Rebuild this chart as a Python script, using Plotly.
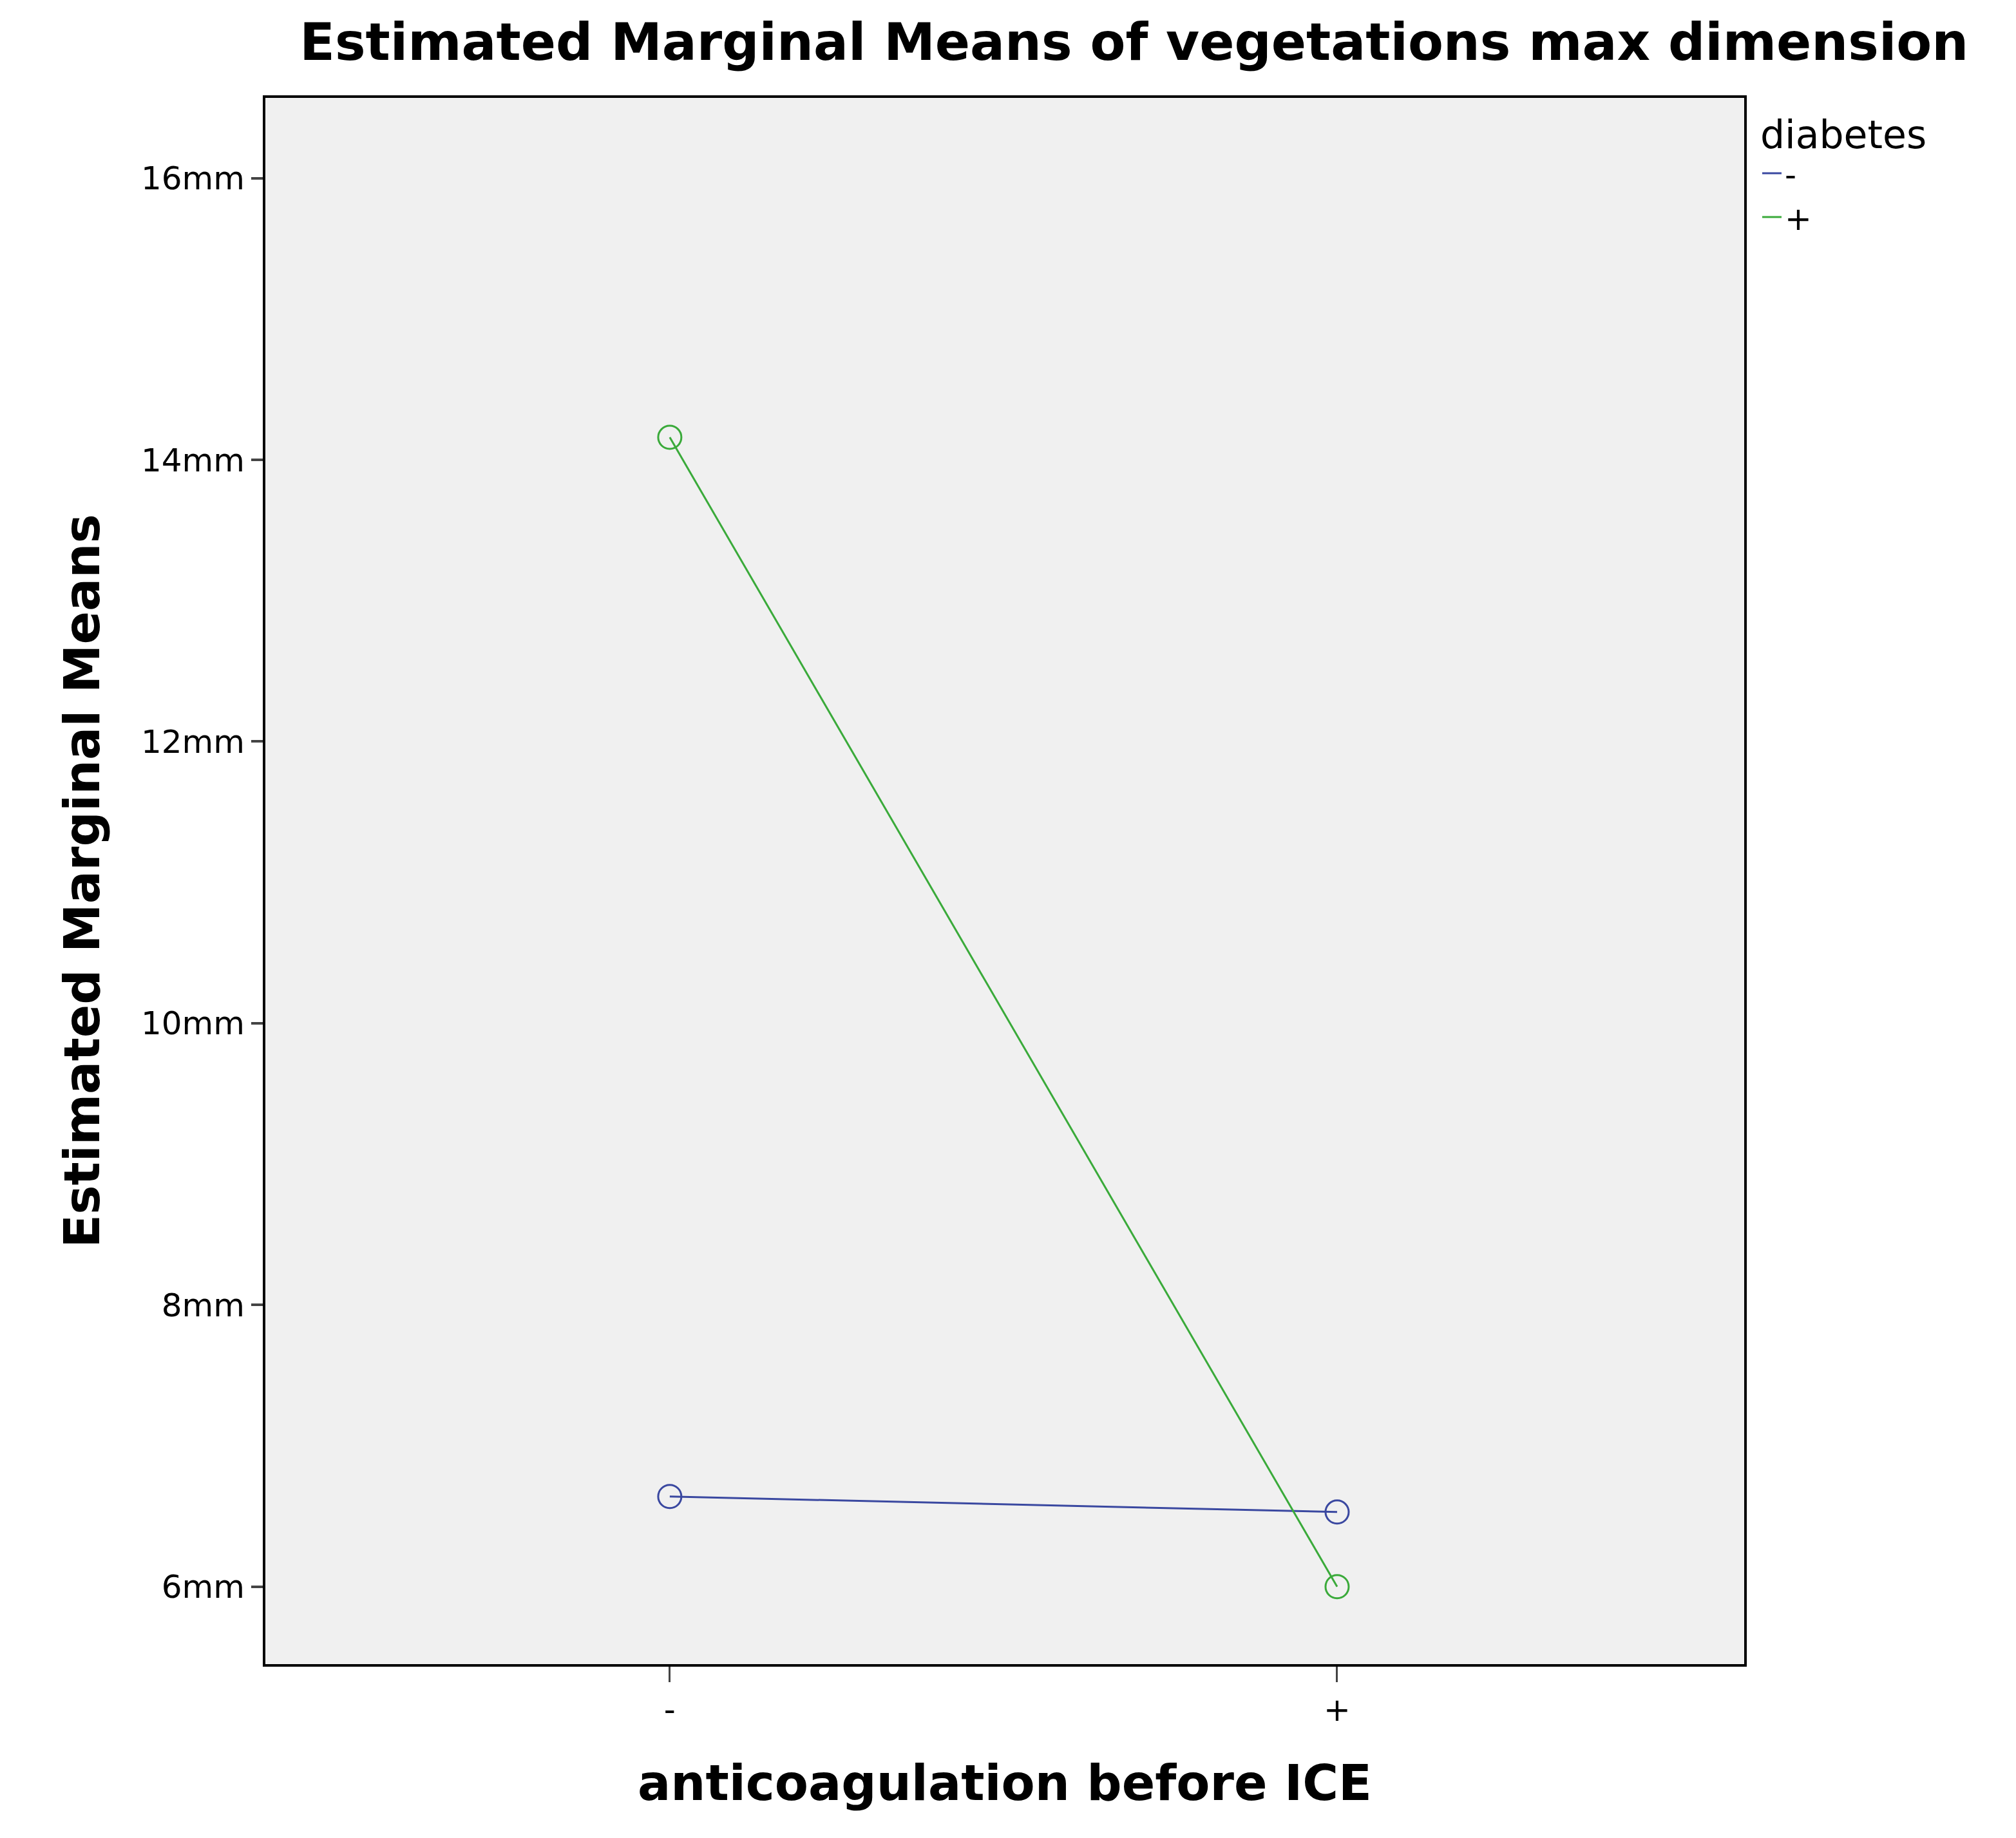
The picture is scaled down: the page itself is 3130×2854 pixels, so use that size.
import plotly.graph_objects as go

categories = ["-", "+"]
x_pos = [0, 1]
diab_minus = [6.64, 6.53]
diab_plus = [14.16, 6.0]
y_ticks = [6, 8, 10, 12, 14, 16]
y_labels = ["6mm", "8mm", "10mm", "12mm", "14mm", "16mm"]
blue, green = "#3a48a0", "#3aaa3a"

fig = go.Figure()
for name, vals, col in [("-", diab_minus, blue), ("+", diab_plus, green)]:
    fig.add_trace(go.Scatter(x=x_pos, y=vals, name=name, mode="lines+markers", showlegend=False,
        line=dict(color=col, width=3),
        marker=dict(symbol="circle-open", size=36, color=col, line=dict(width=3))))
    fig.add_trace(go.Scatter(x=[None], y=[None], name=name, mode="lines",
        line=dict(color=col, width=3)))

fig.update_layout(
    width=3130, height=2854,
    margin=dict(l=404, r=430, t=144, b=278),
    paper_bgcolor="white", plot_bgcolor="#f0f0f0",
    font=dict(family="DejaVu Sans", color="black", size=50),
    title=dict(text="<b>Estimated Marginal Means of vegetations max dimension</b>",
               x=0.56, xanchor="center", y=0.99, yanchor="top", font=dict(size=80)),
    legend=dict(title=dict(text="diabetes", font=dict(size=60)), x=1.01, y=1.0,
                xanchor="left", yanchor="top", font=dict(size=50), bgcolor="rgba(0,0,0,0)"),
    xaxis=dict(range=[-0.606, 1.610], tickvals=x_pos, ticktext=categories,
               ticks="outside", ticklen=24, tickwidth=3, showgrid=False, zeroline=False,
               showline=True, linecolor="black", linewidth=4, mirror=True,
               title=dict(text="<b>anticoagulation before ICE</b>", font=dict(size=76), standoff=60)),
    yaxis=dict(range=[5.45, 16.57], tickvals=y_ticks, ticktext=y_labels,
               ticks="outside", ticklen=18, tickwidth=4, showgrid=False, zeroline=False,
               showline=True, linecolor="black", linewidth=4, mirror=True,
               title=dict(text="<b>Estimated Marginal Means</b>", font=dict(size=76), standoff=40)),
)
fig.write_html("out.html")
